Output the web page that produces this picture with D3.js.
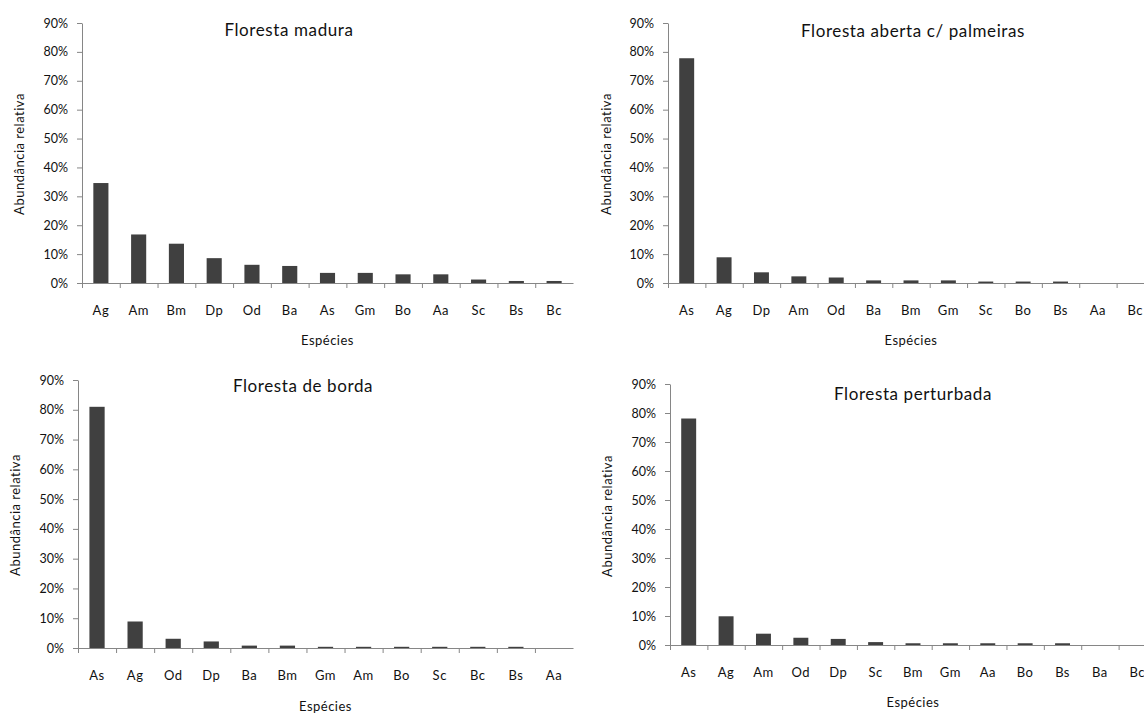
<!DOCTYPE html>
<html><head><meta charset="utf-8">
<script src="https://cdn.jsdelivr.net/npm/d3@7"></script>
<style>
body{margin:0;background:#fff}
svg text{font-family:Lato,"Open Sans",sans-serif;fill:#111}
</style>
</head><body><svg id="c" width="1144" height="715"></svg>
<script>
const yTickValues = [0,10,20,30,40,50,60,70,80,90];
const titles = ["Floresta madura","Floresta aberta c/ palmeiras","Floresta de borda","Floresta perturbada"];
const xTitle = "Espécies";
const yTitle = "Abundância relativa";
const species1 = ["Ag","Am","Bm","Dp","Od","Ba","As","Gm","Bo","Aa","Sc","Bs","Bc"];
const values1 = [34.6,16.8,13.6,8.6,6.3,5.9,3.5,3.5,3.0,3.0,1.2,0.7,0.7];
const species2 = ["As","Ag","Dp","Am","Od","Ba","Bm","Gm","Sc","Bo","Bs","Aa","Bc"];
const values2 = [77.8,8.9,3.7,2.3,1.9,0.9,0.9,0.9,0.5,0.5,0.5,0,0];
const species3 = ["As","Ag","Od","Dp","Ba","Bm","Gm","Am","Bo","Sc","Bc","Bs","Aa"];
const values3 = [81.0,8.9,3.1,2.2,0.8,0.8,0.4,0.4,0.4,0.4,0.4,0.4,0];
const species4 = ["As","Ag","Am","Od","Dp","Sc","Bm","Gm","Aa","Bo","Bs","Ba","Bc"];
const values4 = [78.1,9.9,3.9,2.5,2.1,1.0,0.6,0.6,0.6,0.6,0.6,0,0];

const speciesSets = [species1, species2, species3, species4];
const valueSets = [values1, values2, values3, values4];

const layout = [
  {x0:82, x1:573, yB:283, yT:23, tX:289, tY:36, yLX:24, yLY:154, xLY:345},
  {x0:668, x1:1154, yB:283, yT:23, tX:913, tY:37, yLX:611, yLY:154, xLY:345},
  {x0:78, x1:573, yB:648, yT:380, tX:303, tY:392, yLX:20, yLY:515, xLY:711},
  {x0:670, x1:1156, yB:645, yT:384, tX:913, tY:400, yLX:612, yLY:516, xLY:707}
];
const axisColor = "#868686";
const barColor = "#404040";

const svg = d3.select("#c");

layout.forEach((L, i) => {
  const cats = speciesSets[i], vals = valueSets[i];
  const g = svg.append("g");
  const x = d3.scaleBand().domain(cats).range([L.x0, L.x1]).paddingInner(0).paddingOuter(0);
  const xi = d3.scaleLinear().domain([0, cats.length]).range([L.x0, L.x1]);
  const y = d3.scaleLinear().domain([0, 90]).range([L.yB, L.yT]);

  // bars
  g.selectAll("rect.bar").data(cats).join("rect")
    .attr("class","bar")
    .attr("x", d => x(d) + x.bandwidth()*0.3)
    .attr("width", x.bandwidth()*0.4)
    .attr("y", (d,k) => y(vals[k]))
    .attr("height", (d,k) => y(0) - y(vals[k]))
    .attr("fill", barColor);

  // y axis
  const ya = g.append("g").attr("transform", `translate(${L.x0},0)`)
    .call(d3.axisLeft(y).tickValues(yTickValues).tickFormat(d => d + "%")
      .tickSize(5).tickSizeOuter(0).tickPadding(9));
  ya.selectAll("path,line").attr("stroke", axisColor);
  ya.selectAll("text").style("font-size","12.5px").attr("fill","#111");

  // x axis line with boundary ticks
  const xa = g.append("g").attr("transform", `translate(0,${L.yB})`)
    .call(d3.axisBottom(xi).tickValues(d3.range(cats.length)).tickFormat("")
      .tickSize(5).tickSizeOuter(0));
  xa.selectAll("path,line").attr("stroke", axisColor);

  // category labels
  const xl = g.append("g").attr("transform", `translate(0,${L.yB})`)
    .call(d3.axisBottom(x).tickSize(0).tickPadding(23));
  xl.select(".domain").remove();
  xl.selectAll("text").style("font-size","13px").style("letter-spacing","0.5px").attr("fill","#111");

  // title
  g.append("text").attr("x", L.tX).attr("y", L.tY).attr("text-anchor","middle")
    .style("font-size","17px").style("letter-spacing","0.6px").text(titles[i]);
  // x title
  g.append("text").attr("x", (L.x0 + L.x1)/2).attr("y", L.xLY).attr("text-anchor","middle")
    .style("font-size","13px").style("letter-spacing","0.5px").text(xTitle);
  // y title
  g.append("text").attr("transform", `translate(${L.yLX},${L.yLY}) rotate(-90)`)
    .attr("text-anchor","middle").style("font-size","13px").style("letter-spacing","0.5px").text(yTitle);
});
</script>
</body></html>
